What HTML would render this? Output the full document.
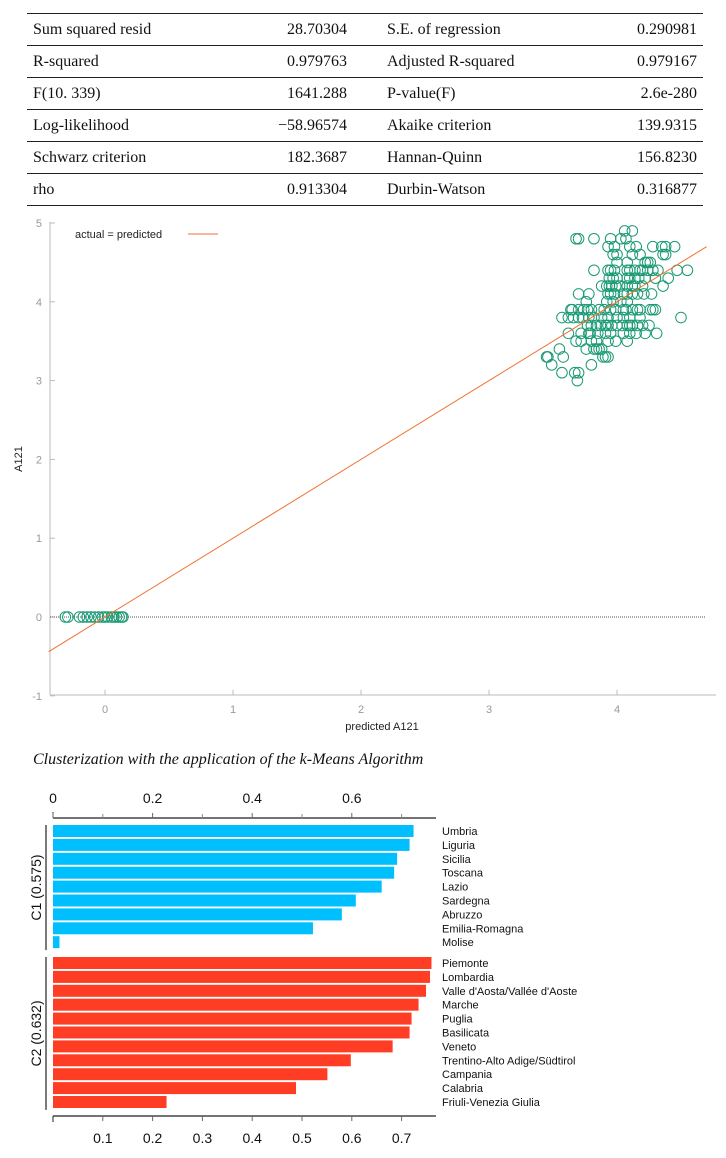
<!DOCTYPE html>
<html><head><meta charset="utf-8">
<style>
body{margin:0;background:#fff;width:726px;height:1158px;overflow:hidden;position:relative;font-family:"Liberation Sans",sans-serif}
table{position:absolute;left:27px;top:13px;width:676px;table-layout:fixed;border-collapse:collapse;font-family:"Liberation Serif",serif;font-size:16px;color:#111}
td{height:31px;border-top:1px solid #222;border-bottom:1px solid #222;padding:0 6px;white-space:nowrap}
td.v{text-align:right}
td.l2{padding-left:34px}
.t{position:absolute;left:33px;top:751px;font-family:"Liberation Serif",serif;font-style:italic;font-size:16px;color:#111}
svg{position:absolute;left:0;top:0}
</style></head><body>
<table>
<colgroup><col style="width:200px"><col style="width:126px"><col style="width:200px"><col style="width:150px"></colgroup>
<tr><td>Sum squared resid</td><td class="v">28.70304</td><td class="l2">S.E. of regression</td><td class="v">0.290981</td></tr>
<tr><td>R-squared</td><td class="v">0.979763</td><td class="l2">Adjusted R-squared</td><td class="v">0.979167</td></tr>
<tr><td>F(10. 339)</td><td class="v">1641.288</td><td class="l2">P-value(F)</td><td class="v">2.6e-280</td></tr>
<tr><td>Log-likelihood</td><td class="v">−58.96574</td><td class="l2">Akaike criterion</td><td class="v">139.9315</td></tr>
<tr><td>Schwarz criterion</td><td class="v">182.3687</td><td class="l2">Hannan-Quinn</td><td class="v">156.8230</td></tr>
<tr><td>rho</td><td class="v">0.913304</td><td class="l2">Durbin-Watson</td><td class="v">0.316877</td></tr>
</table>
<div class="t">Clusterization with the application of the k-Means Algorithm</div>
<svg id="s" width="726" height="1158"></svg>
<script>
const rowsY=[4.9,4.8,4.7,4.6,4.5,4.4,4.3,4.2,4.1,4.0,3.9,3.8,3.7,3.6,3.5,3.4,3.3,3.2,3.1,3.0];
const rowsX=[[4.06,4.12],[3.68,3.70,3.82,3.95,4.03,4.07],[3.93,3.98,4.10,4.15,4.28,4.35,4.38,4.45],[3.97,4.0,4.12,4.18,4.36,4.38],[4.0,4.08,4.22,4.24,4.26],
[3.82,3.93,3.95,3.98,4.08,4.10,4.14,4.18,4.20,4.24,4.28,4.32,4.47,4.55],[3.94,3.97,4.0,4.08,4.10,4.14,4.17,4.22,4.3,4.4],[3.88,3.92,3.94,3.96,3.99,4.02,4.08,4.12,4.14,4.2,4.36],
[3.70,3.78,3.93,3.95,3.98,4.05,4.08,4.12,4.16,4.21,4.27],[3.76,3.92,3.97,4.03,4.08],[3.64,3.65,3.70,3.74,3.77,3.80,3.86,3.90,3.95,3.99,4.05,4.07,4.12,4.16,4.18,4.26,4.28,4.3],
[3.57,3.62,3.66,3.70,3.73,3.78,3.82,3.88,3.93,4.0,4.05,4.10,4.18,4.50],[3.77,3.80,3.84,3.87,3.91,3.93,3.96,4.0,4.04,4.08,4.10,4.12,4.16,4.20,4.25],
[3.62,3.72,3.78,3.79,3.85,3.91,3.95,4.05,4.10,4.15,4.22,4.31],[3.68,3.72,3.80,3.84,3.93,3.99,4.08],[3.55,3.76,3.82,3.84,3.86,3.88],[3.45,3.46,3.58,3.89,3.91,3.93],[3.49,3.80],[3.57,3.67,3.70],[3.69]];
const zeroX=[-0.31,-0.29,-0.2,-0.17,-0.14,-0.11,-0.08,-0.05,-0.02,0.0,0.02,0.05,0.07,0.09,0.11,0.13,0.14];
const xTicks=[0,1,2,3,4];
const yTicks=[-1,0,1,2,3,4,5];
const c1Names=["Umbria","Liguria","Sicilia","Toscana","Lazio","Sardegna","Abruzzo","Emilia-Romagna","Molise"];
const c1Vals=[0.724,0.716,0.691,0.685,0.660,0.608,0.580,0.522,0.013];
const c2Names=["Piemonte","Lombardia","Valle d'Aosta/Vallée d'Aoste","Marche","Puglia","Basilicata","Veneto","Trentino-Alto Adige/Südtirol","Campania","Calabria","Friuli-Venezia Giulia"];
const c2Vals=[0.760,0.757,0.749,0.734,0.720,0.716,0.682,0.598,0.551,0.488,0.228];
const topTicks=[0,0.2,0.4,0.6];
const botTicks=[0.1,0.2,0.3,0.4,0.5,0.6,0.7];

const s=document.getElementById('s');const NS='http://www.w3.org/2000/svg';
function mk(t,a,txt){const e=document.createElementNS(NS,t);for(const k in a)e.setAttribute(k,a[k]);if(txt!==undefined)e.textContent=txt;s.appendChild(e);return e;}
const sx=v=>105+v*128, sy=v=>617-v*78.8;
let e;
e=mk('line',{x1:50,y1:222,x2:50,y2:695,stroke:'#bbb'});
e=mk('line',{x1:50,y1:695,x2:716,y2:695,stroke:'#bbb'});
yTicks.forEach(v=>{mk('line',{x1:50,y1:sy(v),x2:55,y2:sy(v),stroke:'#bbb'});
e=mk('text',{x:42,y:sy(v)+4,'text-anchor':'end','font-size':11,fill:'#999'},String(v));});
xTicks.forEach(v=>{mk('line',{x1:sx(v),y1:695,x2:sx(v),y2:690,stroke:'#bbb'});
e=mk('text',{x:sx(v),y:713,'text-anchor':'middle','font-size':11,fill:'#999'},String(v));});
e=mk('text',{x:382,y:730,'text-anchor':'middle','font-size':11,fill:'#222'},'predicted A121');
e=mk('text',{x:22,y:459,'text-anchor':'middle','font-size':11,fill:'#222',transform:'rotate(-90 22 459)'},'A121');
e=mk('line',{x1:50,y1:sy(0),x2:706,y2:sy(0),stroke:'#555','stroke-dasharray':'1 1'});
const g=mk('g',{fill:'none',stroke:'#1a9a74','stroke-width':1});
rowsY.forEach((y,i)=>rowsX[i].forEach(x=>{const c=document.createElementNS(NS,'circle');c.setAttribute('cx',sx(x));c.setAttribute('cy',sy(y));c.setAttribute('r',5.3);g.appendChild(c);}));
zeroX.forEach(x=>{const c=document.createElementNS(NS,'circle');c.setAttribute('cx',sx(x));c.setAttribute('cy',sy(0));c.setAttribute('r',5.3);g.appendChild(c);});
e=mk('line',{x1:sx(-0.44),y1:sy(-0.44),x2:sx(4.7),y2:sy(4.7),stroke:'#f07030','stroke-width':1});
e=mk('text',{x:75,y:238,'font-size':11,fill:'#222'},'actual = predicted');
e=mk('line',{x1:188,y1:234,x2:218,y2:234,stroke:'#f07030'});
// bar chart
const bx=v=>53+v*498;const pitch=13.9,bh=12;
e=mk('line',{x1:53,y1:818,x2:436,y2:818,stroke:'#222','stroke-width':1.2});
mk('line',{x1:53,y1:812,x2:53,y2:818,stroke:'#222'});
[0.1,0.3,0.5,0.7].forEach(v=>mk('line',{x1:bx(v),y1:814,x2:bx(v),y2:818,stroke:'#888'}));
topTicks.forEach(v=>{mk('line',{x1:bx(v),y1:813,x2:bx(v),y2:818,stroke:'#666'});
e=mk('text',{x:bx(v),y:803,'text-anchor':'middle','font-size':14,fill:'#111'},String(v));});
e=mk('line',{x1:53,y1:1116,x2:436,y2:1116,stroke:'#222','stroke-width':1.2});
mk('line',{x1:53,y1:1116,x2:53,y2:1122,stroke:'#222'});
botTicks.forEach(v=>{mk('line',{x1:bx(v),y1:1116,x2:bx(v),y2:1121,stroke:'#666'});
e=mk('text',{x:bx(v),y:1143,'text-anchor':'middle','font-size':14,fill:'#111'},String(v));});
function group(names,vals,y0,col,lab){
 names.forEach((n,i)=>{const y=y0+i*pitch;
  e=mk('rect',{x:53,y:y,width:bx(vals[i])-53,height:bh,fill:col});
  e=mk('text',{x:442,y:y+10,'font-size':11,fill:'#111'},n);});
 const yb=y0+names.length*pitch;
 e=mk('line',{x1:46,y1:y0,x2:46,y2:yb,stroke:'#222','stroke-width':1.2});
 const ym=(y0+yb)/2;
 e=mk('text',{x:41,y:ym,'text-anchor':'middle','font-size':14,fill:'#111',transform:`rotate(-90 41 ${ym})`},lab);
}
group(c1Names,c1Vals,825,'#00bfff','C1 (0.575)');
group(c2Names,c2Vals,957,'#ff3d24','C2 (0.632)');
</script>
</body></html>
